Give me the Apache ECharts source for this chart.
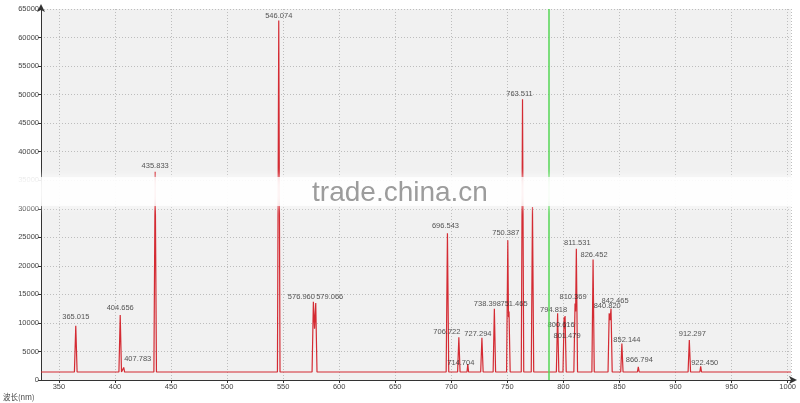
<!DOCTYPE html>
<html>
<head>
<meta charset="utf-8">
<script src="https://cdn.jsdelivr.net/npm/echarts@6/dist/echarts.min.js"></script>
<style>html,body{margin:0;padding:0;background:#fff;}#c{width:800px;height:403px;}</style>
</head>
<body>
<div id="c"></div>
<script>
// Spectrum line (wavelength nm, intensity)
const lineWavelengths = [
  334, 363.8, 365.015, 366.2, 403.5, 404.656, 405.8, 407.0, 407.783, 408.6,
  434.7, 435.833, 437.0, 544.9, 546.074, 547.2, 575.8, 576.96, 578.0, 579.066, 580.2,
  695.4, 696.543, 697.7, 705.6, 706.722, 707.8, 714.0, 714.704, 715.4,
  726.2, 727.294, 728.4, 737.3, 738.398, 739.5, 749.3, 750.387, 751.0, 751.465, 752.5,
  762.4, 763.511, 764.6, 771.3, 772.4, 773.5, 793.7, 794.818, 795.9,
  799.6, 800.616, 801.05, 801.479, 802.5, 809.3, 810.369, 810.9, 811.531, 812.6,
  825.4, 826.452, 827.5, 839.8, 840.82, 841.6, 842.465, 843.5, 851.1, 852.144, 853.2,
  866.0, 866.794, 867.6, 911.2, 912.297, 913.4, 921.7, 922.45, 923.2, 1003
];
const lineIntensities = [
  1400, 1400, 9500, 1400, 1400, 11400, 1400, 1400, 2200, 1400,
  1400, 36500, 1400, 1400, 63000, 1400, 1400, 13700, 9000, 13500, 1400,
  1400, 25700, 1400, 1400, 7500, 1400, 1400, 2800, 1400,
  1400, 7400, 1400, 1400, 12500, 1400, 1400, 24500, 11000, 12000, 1400,
  1400, 49200, 1400, 1400, 30300, 1400, 1400, 11700, 1400,
  1400, 11000, 9000, 11200, 1400, 1400, 13400, 12000, 23000, 1400,
  1400, 21100, 1400, 1400, 11700, 10500, 12500, 1400, 1400, 6400, 1400,
  1400, 2300, 1400, 1400, 7000, 1400, 1400, 2400, 1400, 1400
];
// Labelled peaks
const peakWavelengths = [365.015, 404.656, 407.783, 435.833, 546.074, 576.960, 579.066,
  696.543, 706.722, 714.704, 727.294, 738.398, 750.387, 751.465, 763.511,
  794.818, 800.616, 801.479, 810.369, 811.531, 826.452, 840.820, 842.465,
  852.144, 866.794, 912.297, 922.450];
const peakIntensities = [9500, 11400, 2200, 36500, 63000, 13700, 13500,
  25700, 7500, 2800, 7400, 12500, 24500, 12000, 49200,
  11700, 11000, 11200, 13400, 23000, 21100, 11700, 12500,
  6400, 2300, 7000, 2400];
const markerWavelength = 787;
const yTicks = {min: 0, max: 65000, step: 5000};
const xRange = {min: 334, max: 1003};

// label offsets (style only)
const labelOffsets = [[0,0],[0,2],[14,0],[0,3],[0,5],[-12,4],[14,3],
  [-2,2],[-12,4],[-7,8],[-4,5],[-7,4],[-2,2],[5,1],[-3,4],
  [-4,6],[-3,17],[2,29],[-2,2],[1,3],[1,4],[-2,2],[4,1],
  [5,5],[1,2],[3,3],[4,6]];

const lineData = lineWavelengths.map((w, i) => [w, lineIntensities[i]]);
const peakData = peakWavelengths.map((w, i) => ({
  value: [w, peakIntensities[i]],
  label: {offset: labelOffsets[i]}
}));

const font = 'Liberation Sans';
const gridLine = {color: '#bdbdbd', type: [1, 2], width: 1};
const chart = echarts.init(document.getElementById('c'), null, {renderer: 'canvas'});
chart.setOption({
  animation: false,
  backgroundColor: '#ffffff',
  grid: {left: 41, right: 9, top: 9, bottom: 23, show: true, backgroundColor: '#f1f1f1', borderWidth: 0},
  xAxis: {
    type: 'value', min: xRange.min, max: xRange.max, splitNumber: 13,
    axisLine: {show: true, lineStyle: {color: '#333', width: 1}, symbol: ['none', 'arrow'], symbolSize: [6, 8], symbolOffset: [0, 6]},
    axisTick: {show: true, length: 3, lineStyle: {color: '#333'}},
    axisLabel: {color: '#444', fontSize: 7.5, fontFamily: font, margin: 3, showMinLabel: false, showMaxLabel: false,
      formatter: v => String(v)},
    splitLine: {show: true, lineStyle: gridLine}
  },
  yAxis: {
    type: 'value', min: yTicks.min, max: yTicks.max, interval: yTicks.step,
    axisLine: {show: true, lineStyle: {color: '#333', width: 1}, symbol: ['none', 'arrow'], symbolSize: [6, 8], symbolOffset: [0, 5]},
    axisTick: {show: true, length: 3, lineStyle: {color: '#333'}},
    axisLabel: {color: '#444', fontSize: 7.5, fontFamily: font, margin: 2, formatter: v => String(v)},
    splitLine: {show: true, lineStyle: gridLine}
  },
  series: [
    {
      type: 'line', data: lineData, showSymbol: false, symbol: 'none',
      lineStyle: {color: '#d42b33', width: 1.2}, z: 3,
      markLine: {
        silent: true, symbol: ['none', 'none'], label: {show: false},
        lineStyle: {color: '#55d655', type: 'solid', width: 1.5, opacity: 1},
        emphasis: {disabled: true},
        data: [{xAxis: markerWavelength, lineStyle: {color: '#55d655', type: 'solid', width: 1.5}}]
      }
    },
    {
      type: 'scatter', data: peakData, symbolSize: 0, z: 4,
      label: {
        show: true, position: 'top', distance: 5, color: '#2a2a2a', fontSize: 7.5, fontFamily: font,
        formatter: p => p.value[0].toFixed(3)
      }
    }
  ],
  graphic: [
    {type: 'rect', z: 100, shape: {x: 0, y: 177, width: 800, height: 29},
      style: {fill: 'rgba(255,255,255,0.8)', shadowBlur: 10, shadowColor: 'rgba(255,255,255,0.9)'}},
    {type: 'text', z: 101, x: 400, y: 193,
      style: {text: 'trade.china.cn', fill: '#9c9c9c', font: '28px "Liberation Sans"', textAlign: 'center', textVerticalAlign: 'middle'}},
    {type: 'text', z: 101, x: 3, y: 397,
      style: {text: '波长(nm)', fill: '#444', font: '7.5px "Noto Sans CJK SC"', textAlign: 'left', textVerticalAlign: 'middle'}}
  ]
});
</script>
</body>
</html>
